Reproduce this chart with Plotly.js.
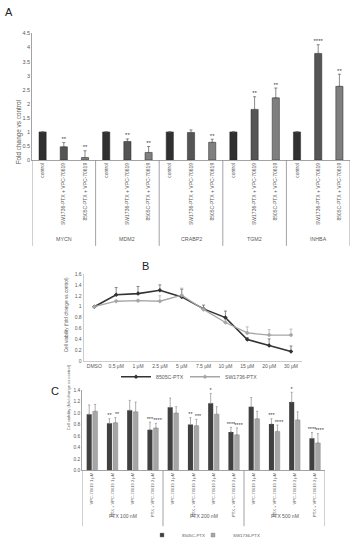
<!DOCTYPE html>
<html>
<head>
<meta charset="utf-8">
<script src="https://cdn.plot.ly/plotly-3.0.1.min.js"></script>
<style>html,body{margin:0;padding:0;background:#fff;}#chart{width:356px;height:550px;}</style>
</head>
<body>
<div id="chart"></div>
<script>
// ---------- Panel A data ----------
const genes = ['MYCN', 'MDM2', 'CRABP2', 'TGM2', 'INHBA'];
const conditionsA = ['control', 'SW1736-PTX + VPC-70619', '8505C-PTX + VPC-70619'];
const controlA = [1, 1, 1, 1, 1];
const sw1736A = [0.47, 0.66, 0.98, 1.80, 3.79];
const sw1736AErr = [0.15, 0.09, 0.09, 0.45, 0.31];
const c8505A = [0.09, 0.27, 0.63, 2.21, 2.62];
const c8505AErr = [0.24, 0.21, 0.11, 0.35, 0.43];
const sw1736AStars = ['**', '**', '', '**', '****'];
const c8505AStars = ['**', '**', '**', '**', '**'];

// ---------- Panel B data ----------
const concentrations = ['DMSO', '0.5 μM', '1 μM', '2.5 μM', '5 μM', '7.5 μM', '10 μM', '15 μM', '20 μM', '30 μM'];
const b8505 = [1.00, 1.22, 1.24, 1.30, 1.18, 0.96, 0.80, 0.40, 0.29, 0.18];
const b8505Err = [0, 0.13, 0.13, 0.10, 0.14, 0.07, 0.12, 0.03, 0.12, 0.10];
const bSW1736 = [1.00, 1.10, 1.11, 1.10, 1.21, 0.95, 0.71, 0.52, 0.48, 0.48];
const bSW1736Err = [0, 0.02, 0.02, 0.10, 0.13, 0.03, 0.05, 0.11, 0.10, 0.11];

// ---------- Panel C data ----------
const ptxDoses = ['PTX 100 nM', 'PTX 200 nM', 'PTX 500 nM'];
const treatmentsC = ['VPC-70619 1 μM', 'PTX + VPC-70619 1 μM', 'VPC-70619 2 μM', 'PTX + VPC-70619 2 μM'];
const c8505C = [0.98, 0.82, 1.05, 0.71, 1.10, 0.80, 1.17, 0.67, 1.11, 0.81, 1.19, 0.56];
const c8505CErr = [0.16, 0.08, 0.17, 0.13, 0.16, 0.12, 0.17, 0.08, 0.16, 0.09, 0.17, 0.10];
const sw1736C = [1.03, 0.83, 1.02, 0.74, 1.00, 0.78, 0.98, 0.62, 0.90, 0.68, 0.88, 0.48];
const sw1736CErr = [0.12, 0.09, 0.17, 0.08, 0.11, 0.11, 0.13, 0.12, 0.13, 0.11, 0.14, 0.16];
const c8505CStars = ['', '**', '', '***', '', '**', '*', '****', '', '***', '*', '****'];
const sw1736CStars = ['', '**', '', '****', '', '***', '', '****', '', '****', '', '****'];

// ---------- build ----------
const FONT = 'Liberation Sans, Arial, sans-serif';
const TXT = '#595959';
const AX = '#8c8c8c';
const DARK_C = '#404040', LIGHT_C = '#a6a6a6';
const zeros = n => Array.from({length: n}, () => 0);

const nA = conditionsA.length;
const posA = k => genes.map((g, i) => i * nA + k);
const tickvalsA = [], ticktextA = [];
genes.forEach((g, i) => conditionsA.forEach((c, k) => { tickvalsA.push(i * nA + k); ticktextA.push(c); }));

const nC = treatmentsC.length;
const posC = c8505C.map((v, i) => i);
const ticktextC = [];
ptxDoses.forEach(() => treatmentsC.forEach(t => ticktextC.push(t)));

const wA = 0.34;
function barA(y, err, color, k) {
  return {type: 'bar', x: posA(k), y: y, xaxis: 'x', yaxis: 'y', width: wA, offset: -wA / 2,
    marker: {color: color, line: {color: '#262626', width: 0.5}}, showlegend: false, hoverinfo: 'skip',
    error_y: {type: 'data', symmetric: false, array: err, arrayminus: zeros(y.length), color: '#595959', thickness: 0.7, width: 1.5}};
}
function starsTrace(x, y, err, txt, xa, ya, size) {
  return {type: 'scatter', mode: 'text', x: x, y: y.map((v, i) => v + err[i]), text: txt, xaxis: xa, yaxis: ya,
    textposition: 'top center', textfont: {family: FONT, size: size, color: '#404040'}, cliponaxis: false,
    showlegend: false, hoverinfo: 'skip'};
}
function legendMarker(name, color, legendId) {
  return {type: 'scatter', mode: 'markers', x: [null], y: [null], xaxis: 'x3', yaxis: 'y3', name: name, legend: legendId,
    marker: {symbol: 'square', size: 4, color: color, line: {color: '#8c8c8c', width: 0.4}}, hoverinfo: 'skip'};
}

const dW = 0.25, lW = 0.24;
const traces = [
  barA(controlA, zeros(controlA.length), '#303030', 0),
  barA(sw1736A, sw1736AErr, '#555555', 1),
  barA(c8505A, c8505AErr, '#7f7f7f', 2),
  starsTrace(posA(1), sw1736A, sw1736AErr, sw1736AStars, 'x', 'y', 6),
  starsTrace(posA(2), c8505A, c8505AErr, c8505AStars, 'x', 'y', 6),
  // Panel B
  {type: 'scatter', mode: 'lines+markers', x: concentrations, y: b8505, name: '8505C-PTX', xaxis: 'x2', yaxis: 'y2',
    line: {color: '#333333', width: 1.6}, marker: {symbol: 'diamond', size: 3.5, color: '#333333'}, legend: 'legend',
    error_y: {type: 'data', symmetric: false, array: b8505Err, arrayminus: zeros(b8505.length), color: '#595959', thickness: 0.7, width: 1.5}},
  {type: 'scatter', mode: 'lines+markers', x: concentrations, y: bSW1736, name: 'SW1736-PTX', xaxis: 'x2', yaxis: 'y2',
    line: {color: LIGHT_C, width: 1.3}, marker: {symbol: 'diamond', size: 3.5, color: LIGHT_C}, legend: 'legend2',
    error_y: {type: 'data', symmetric: false, array: bSW1736Err, arrayminus: zeros(bSW1736.length), color: LIGHT_C, thickness: 0.7, width: 1.5}},
  // Panel C
  {type: 'bar', x: posC, y: c8505C, name: '8505C-PTX', xaxis: 'x3', yaxis: 'y3', width: dW, offset: -0.27,
    marker: {color: DARK_C}, showlegend: false, hoverinfo: 'skip',
    error_y: {type: 'data', symmetric: false, array: c8505CErr, arrayminus: zeros(c8505C.length), color: '#8c8c8c', thickness: 0.7, width: 1}},
  {type: 'bar', x: posC, y: sw1736C, name: 'SW1736-PTX', xaxis: 'x3', yaxis: 'y3', width: lW, offset: 0.03,
    marker: {color: LIGHT_C, line: {color: '#8c8c8c', width: 0.4}}, showlegend: false, hoverinfo: 'skip',
    error_y: {type: 'data', symmetric: false, array: sw1736CErr, arrayminus: zeros(sw1736C.length), color: '#8c8c8c', thickness: 0.7, width: 1}},
  starsTrace(posC.map(x => x - 0.27 + dW / 2), c8505C, c8505CErr, c8505CStars, 'x3', 'y3', 5.5),
  starsTrace(posC.map(x => x + 0.03 + lW / 2 + 0.08), sw1736C, sw1736CErr, sw1736CStars, 'x3', 'y3', 5.5),
  legendMarker('8505C-PTX', DARK_C, 'legend3'),
  legendMarker('SW1736-PTX', LIGHT_C, 'legend4')
];

const px = v => v / 356, py = v => 1 - v / 550;
const domA = {x: [px(32), px(350)], y: [py(162.7), py(34)]};
const domB = {x: [px(83.4), px(301.9)], y: [py(367.3), py(278.5)]};
const domC = {x: [px(82), px(325)], y: [py(478.3), py(396.5)]};

const shapes = [];
for (let g = 0; g <= genes.length; g++) {
  shapes.push({type: 'line', xref: 'x', yref: 'paper', x0: g * nA - 0.5, x1: g * nA - 0.5, y0: domA.y[0], y1: py(250), line: {color: AX, width: 0.8}});
}
for (let g = 0; g <= ptxDoses.length; g++) {
  shapes.push({type: 'line', xref: 'x3', yref: 'paper', x0: g * nC - 0.5, x1: g * nC - 0.5, y0: domC.y[0], y1: py(535), line: {color: AX, width: 0.8}});
}

const annotations = [
  {text: 'A', x: px(3), y: py(4), xref: 'paper', yref: 'paper', xanchor: 'left', yanchor: 'top', showarrow: false, font: {family: FONT, size: 11, color: '#222'}},
  {text: 'B', x: px(140), y: py(262), xref: 'paper', yref: 'paper', xanchor: 'left', yanchor: 'top', showarrow: false, font: {family: FONT, size: 11, color: '#222'}},
  {text: 'C', x: px(49), y: py(389), xref: 'paper', yref: 'paper', xanchor: 'left', yanchor: 'top', showarrow: false, font: {family: FONT, size: 11, color: '#222'}},
  {text: 'Fold change vs control', textangle: -90, x: px(13), y: py(100), xref: 'paper', yref: 'paper', showarrow: false, font: {family: FONT, size: 6.4, color: TXT}},
  {text: 'Cell viability (fold change vs control)', textangle: -90, x: px(62), y: py(320), xref: 'paper', yref: 'paper', showarrow: false, font: {family: FONT, size: 4.7, color: TXT}},
  {text: 'Cell viability (fold change vs control)', textangle: -90, x: px(64), y: py(440), xref: 'paper', yref: 'paper', showarrow: false, font: {family: FONT, size: 4.1, color: TXT}}
];
genes.forEach((g, i) => annotations.push({text: g, x: i * nA + (nA - 1) / 2, xref: 'x', y: py(243), yref: 'paper', showarrow: false, font: {family: FONT, size: 5.3, color: TXT}}));
ptxDoses.forEach((d, i) => annotations.push({text: d, x: i * nC + (nC - 1) / 2, xref: 'x3', y: py(530), yref: 'paper', showarrow: false, font: {family: FONT, size: 5, color: TXT}}));

const legBase = (x, y, size) => ({orientation: 'h', x: x, xanchor: 'left', y: y, yanchor: 'middle', font: {family: FONT, size: size, color: TXT},
  bgcolor: 'rgba(0,0,0,0)', itemwidth: 30, borderwidth: 0});

const layout = {
  width: 356, height: 550, margin: {l: 0, r: 0, t: 0, b: 0},
  paper_bgcolor: '#fff', plot_bgcolor: 'rgba(0,0,0,0)',
  font: {family: FONT, color: TXT},
  xaxis: {domain: domA.x, anchor: 'y', range: [-0.5, genes.length * nA - 0.5], tickvals: tickvalsA, ticktext: ticktextA, tickangle: -90,
    tickfont: {size: 5, color: TXT}, showline: true, linecolor: AX, linewidth: 0.8, showgrid: false, zeroline: false, ticks: '', automargin: false},
  yaxis: {domain: domA.y, anchor: 'x', range: [0, 4.5], dtick: 0.5, tickfont: {size: 5.5, color: TXT}, showline: true, linecolor: AX, linewidth: 0.8,
    showgrid: false, zeroline: false, ticks: '', automargin: false},
  xaxis2: {domain: domB.x, anchor: 'y2', type: 'category', range: [-0.5, concentrations.length - 0.5], tickfont: {size: 5, color: TXT},
    showline: true, linecolor: '#bfbfbf', linewidth: 0.8, showgrid: false, zeroline: false, ticks: '', automargin: false},
  yaxis2: {domain: domB.y, anchor: 'x2', range: [0, 1.6], dtick: 0.2, tickfont: {size: 5, color: TXT}, showline: true, linecolor: '#bfbfbf', linewidth: 0.8,
    showgrid: false, zeroline: false, ticks: '', automargin: false},
  xaxis3: {domain: domC.x, anchor: 'y3', range: [-0.5, c8505C.length - 0.5], tickvals: posC, ticktext: ticktextC, tickangle: -90,
    tickfont: {size: 4.1, color: TXT}, showline: true, linecolor: AX, linewidth: 0.8, showgrid: false, zeroline: false, ticks: '', automargin: false},
  yaxis3: {domain: domC.y, anchor: 'x3', range: [0, 1.4], dtick: 0.2, tickformat: '.1f', tickfont: {size: 4.8, color: TXT}, showline: true, linecolor: AX, linewidth: 0.8,
    showgrid: false, zeroline: false, ticks: '', automargin: false},
  legend: legBase(px(116), py(383), 5.2),
  legend2: legBase(px(185), py(383), 5.2),
  legend3: legBase(px(142), py(544), 4.4),
  legend4: legBase(px(193), py(544), 4.4),
  shapes: shapes,
  annotations: annotations,
  showlegend: true
};

Plotly.newPlot('chart', traces, layout, {displayModeBar: false, staticPlot: true});
</script>
</body>
</html>
